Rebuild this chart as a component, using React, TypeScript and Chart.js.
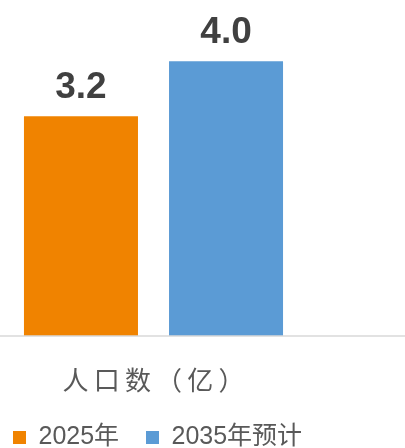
import React, { useEffect, useRef } from 'react';
import { Chart, registerables } from 'chart.js';

Chart.register(...registerables);

const categories = ['人口数（亿）'];
const seriesNames = ['2025年', '2035年预计'];
const values2025 = [3.2];
const values2035 = [4.0];
const seriesColors = ['#F08300', '#5B9BD5'];

const axisLinePlugin = {
  id: 'axisLine',
  afterDatasetsDraw(chart: any) {
    const { ctx } = chart;
    const y = chart.scales.y.getPixelForValue(0);
    ctx.save();
    ctx.strokeStyle = '#D9D9D9';
    ctx.lineWidth = 1.5;
    ctx.beginPath();
    ctx.moveTo(0, y);
    ctx.lineTo(chart.width, y);
    ctx.stroke();
    ctx.restore();
  },
};

const valueLabelPlugin = {
  id: 'valueLabels',
  afterDatasetsDraw(chart: any) {
    const { ctx } = chart;
    ctx.save();
    ctx.font = 'bold 37px "Liberation Sans", Arial, sans-serif';
    ctx.fillStyle = '#404040';
    ctx.textAlign = 'center';
    ctx.textBaseline = 'alphabetic';
    chart.data.datasets.forEach((ds: any, di: number) => {
      const meta = chart.getDatasetMeta(di);
      meta.data.forEach((el: any, i: number) => {
        const v = ds.data[i] as number;
        ctx.fillText(v.toFixed(1), el.x, el.y - 18);
      });
    });
    ctx.restore();
  },
};

export default function App() {
  const canvasRef = useRef<HTMLCanvasElement | null>(null);

  useEffect(() => {
    if (!canvasRef.current) return;
    const chart = new Chart(canvasRef.current, {
      type: 'bar',
      data: {
        labels: categories,
        datasets: [
          {
            label: seriesNames[0],
            data: values2025,
            backgroundColor: seriesColors[0],
            borderWidth: 0,
            barPercentage: 0.786,
            categoryPercentage: 0.945,
          },
          {
            label: seriesNames[1],
            data: values2035,
            backgroundColor: seriesColors[1],
            borderWidth: 0,
            barPercentage: 0.786,
            categoryPercentage: 0.945,
          },
        ],
      },
      options: {
        animation: false,
        responsive: true,
        maintainAspectRatio: false,
        layout: { padding: { top: 27, right: 0, left: 0, bottom: 0 } },
        plugins: {
          tooltip: { enabled: false },
          legend: {
            position: 'bottom',
            align: 'start',
            labels: {
              boxWidth: 13,
              boxHeight: 13,
              padding: 13,
              color: '#595959',
              font: { size: 25, family: '"Liberation Sans", Arial, "Noto Sans CJK SC", sans-serif' },
              generateLabels: (chart: any) => {
                const items = Chart.defaults.plugins.legend.labels.generateLabels(chart);
                return items.map((it: any, i: number) =>
                  i < items.length - 1 ? { ...it, text: it.text + '  ' } : it
                );
              },
            },
          },
        },
        scales: {
          x: {
            grid: { display: false },
            border: { display: false },
            afterFit: (scale: any) => {
              scale.height = 76;
            },
            ticks: {
              padding: 21,
              color: '#595959',
              font: { size: 26, family: '"Noto Sans CJK SC", sans-serif' },
              callback: (_v: any, i: number) => categories[i].split('').join('\u2009'),
            },
          },
          y: {
            display: true,
            position: 'right',
            min: 0,
            max: 4.5,
            grid: { display: false },
            border: { display: false },
            ticks: { display: false },
            afterFit: (scale: any) => {
              scale.width = 98;
            },
          },
        },
      },
      plugins: [axisLinePlugin, valueLabelPlugin],
    });
    return () => chart.destroy();
  }, []);

  return (
    <div style={{ position: 'fixed', left: 0, top: 0, width: 405, height: 448, overflow: 'hidden', background: '#fff' }}>
      <div style={{ position: 'relative', width: 405, height: 460 }}>
        <canvas ref={canvasRef} />
      </div>
    </div>
  );
}
